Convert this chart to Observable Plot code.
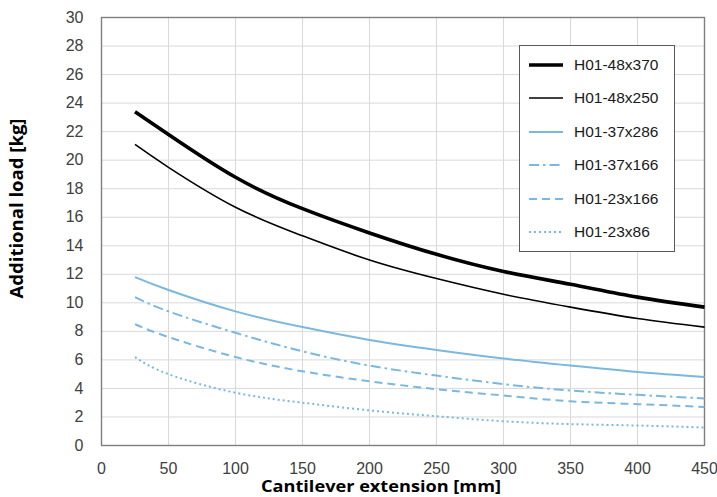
<!DOCTYPE html>
<html>
<head>
<meta charset="utf-8">
<script src="https://cdn.jsdelivr.net/npm/d3@7"></script>
<script src="https://cdn.jsdelivr.net/npm/@observablehq/plot@0.6"></script>
<style>
  html, body { margin: 0; padding: 0; background: #fff; }
  #wrap { position: relative; width: 717px; height: 497px; }
  #legend { position: absolute; left: 519px; top: 45px; width: 154px; height: 205px;
    background: #fff; border: 1px solid #595959; font-family: "Liberation Sans", Arial, sans-serif;
    font-size: 15.5px; color: #1a1a1a; }
  .row { position: absolute; left: 0; height: 20px; display: flex; align-items: center; }
  .row svg { margin-left: 9px; margin-right: 11px; }
</style>
</head>
<body>
<div id="wrap"></div>
<script>
const xValues = [25, 50, 100, 150, 200, 250, 300, 350, 400, 450];
const s48x370 = [23.4, 21.8, 18.8, 16.6, 14.9, 13.4, 12.2, 11.3, 10.4, 9.7];
const s48x250 = [21.1, 19.5, 16.7, 14.7, 13.0, 11.7, 10.6, 9.7, 8.9, 8.3];
const s37x286 = [11.8, 10.9, 9.4, 8.3, 7.4, 6.7, 6.1, 5.6, 5.15, 4.8];
const s37x166 = [10.4, 9.4, 7.9, 6.6, 5.6, 4.9, 4.3, 3.85, 3.55, 3.3];
const s23x166 = [8.5, 7.6, 6.2, 5.2, 4.5, 3.95, 3.5, 3.1, 2.9, 2.7];
const s23x86  = [6.2, 5.0, 3.7, 3.0, 2.46, 2.05, 1.7, 1.5, 1.4, 1.26];
const seriesNames = ["H01-48x370", "H01-48x250", "H01-37x286", "H01-37x166", "H01-23x166", "H01-23x86"];
const seriesValues = [s48x370, s48x250, s37x286, s37x166, s23x166, s23x86];
const xTicks = [0, 50, 100, 150, 200, 250, 300, 350, 400, 450];
const yTicks = [0, 2, 4, 6, 8, 10, 12, 14, 16, 18, 20, 22, 24, 26, 28, 30];
const xTitle = "Cantilever extension [mm]";
const yTitle = "Additional load [kg]";

const styles = {
  "H01-48x370": {stroke: "#000", strokeWidth: 3.6, dash: null},
  "H01-48x250": {stroke: "#000", strokeWidth: 1.6, dash: null},
  "H01-37x286": {stroke: "#7ab8df", strokeWidth: 2, dash: null},
  "H01-37x166": {stroke: "#7ab8df", strokeWidth: 2, dash: "10,4,2.5,4"},
  "H01-23x166": {stroke: "#7ab8df", strokeWidth: 2, dash: "8,5"},
  "H01-23x86":  {stroke: "#7ab8df", strokeWidth: 2, dash: "2,3"}
};

const rows = [];
seriesNames.forEach((name, i) => {
  xValues.forEach((x, j) => rows.push({series: name, x, y: seriesValues[i][j]}));
});

const lineMarks = seriesNames.map(name => Plot.line(rows.filter(d => d.series === name), {
  x: "x", y: "y", curve: "natural",
  stroke: styles[name].stroke, strokeWidth: styles[name].strokeWidth,
  strokeDasharray: styles[name].dash, strokeLinecap: "butt"
}));

const chart = Plot.plot({
  width: 717, height: 497,
  marginLeft: 101, marginTop: 17, marginRight: 13, marginBottom: 52,
  style: {fontFamily: "'Liberation Sans', Arial, sans-serif", fontSize: "16px", color: "#404040", background: "#fff"},
  x: {domain: [0, 450]},
  y: {domain: [0, 30]},
  marks: [
    Plot.gridX(xTicks, {stroke: "#d9d9d9", strokeOpacity: 1, strokeWidth: 1}),
    Plot.gridY(yTicks, {stroke: "#d9d9d9", strokeOpacity: 1, strokeWidth: 1}),
    Plot.frame({stroke: "#7f7f7f", strokeWidth: 1.4}),
    Plot.axisX(xTicks, {tickSize: 0, tickPadding: 17, label: null, fill: "#404040"}),
    Plot.axisY(yTicks, {tickSize: 0, tickPadding: 18, label: null, fill: "#404040"}),
    ...lineMarks,
    Plot.text([xTitle], {frameAnchor: "bottom", textAnchor: "middle", lineAnchor: "middle",
      dx: -22, dy: 41.5, text: d => d, className: "xtitle",
      fontFamily: "'Open Sans', sans-serif", fontWeight: "bold", fontSize: 16.5, fill: "#000"}),
    Plot.text([yTitle], {frameAnchor: "left", textAnchor: "middle", lineAnchor: "middle",
      dx: -84, dy: -23, rotate: -90, text: d => d, className: "ytitle",
      fontFamily: "'Open Sans', sans-serif", fontWeight: "bold", fontSize: 17.5, fill: "#000"})
  ]
});

d3.select(chart).selectAll("g.xtitle text").attr("textLength", 240).attr("lengthAdjust", "spacingAndGlyphs");
d3.select(chart).selectAll("g.ytitle text").attr("textLength", 180).attr("lengthAdjust", "spacingAndGlyphs");

const wrap = document.getElementById("wrap");
wrap.appendChild(chart);

const legend = document.createElement("div");
legend.id = "legend";
seriesNames.forEach((name, i) => {
  const st = styles[name];
  const row = document.createElement("div");
  row.className = "row";
  row.style.top = (9 + i * 33.4) + "px";
  row.innerHTML = `<svg width="34" height="10"><line x1="0" y1="5" x2="34" y2="5" stroke="${st.stroke}" stroke-width="${st.strokeWidth}" ${st.dash ? `stroke-dasharray="${st.dash}"` : ""}/></svg><span>${name}</span>`;
  legend.appendChild(row);
});
wrap.appendChild(legend);
</script>
</body>
</html>
